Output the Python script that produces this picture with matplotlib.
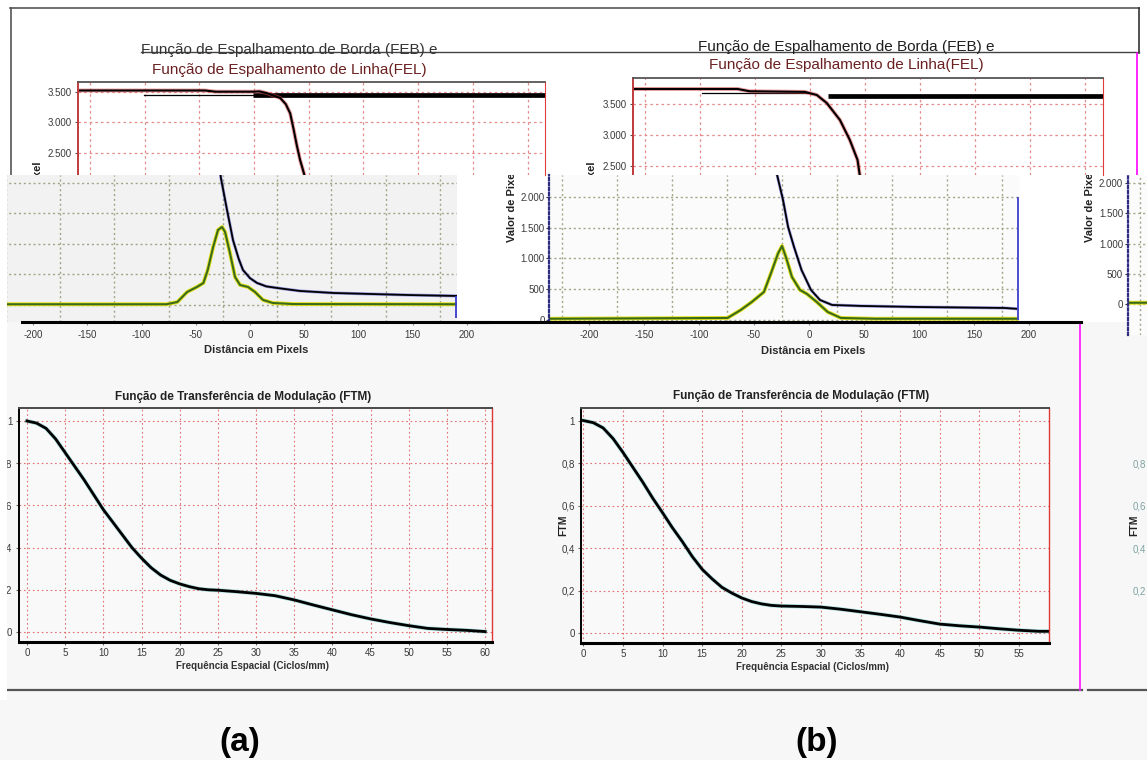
import matplotlib
matplotlib.use("Agg")
import matplotlib.pyplot as plt
from matplotlib.lines import Line2D
from matplotlib.patches import Rectangle

# ---------------- data ----------------
# Edge spread function (FEB), plateau section: distance (pixels) / pixel value
feb_top_a_x = [-236, -120, -110, -76, -70, -63, -57, -51, -46, -42, -39, -36, -33, -29, -27]
feb_top_a_y = [3525, 3525, 3505, 3505, 3510, 3480, 3440, 3400, 3300, 3150, 2900, 2630, 2390, 2140, 1900]
feb_trace_a_x = [-176, -76]
feb_trace_a_y = [3455, 3455]
feb_band_a_x = [-76, 191]
feb_band_a_y = [3455, 3455]

feb_top_b_x = [-236, -141, -130, -80, -69, -60, -48, -39, -32, -30, -28]
feb_top_b_y = [3742, 3742, 3705, 3695, 3645, 3516, 3242, 2919, 2597, 2355, 2100]
feb_trace_b_x = [-173, -75]
feb_trace_b_y = [3677, 3677]
feb_band_b_x = [-59, 191]
feb_band_b_y = [3630, 3630]

# Lower section: FEB tail and line spread function (FEL)
feb_a_x = [-29, -26.8, -21.2, -15.7, -10.5, -6.5, 0, 6.5, 15, 24.9, 46, 76.6, 145, 191]
feb_a_y = [2400, 2080, 1557, 1066, 760, 574, 440, 361, 305, 279, 230, 197, 164, 148]
fel_a_x = [-236, -77, -67, -58, -49, -43, -39, -34, -29.5, -25.8, -23, -18.5, -13.8, -9.2,
           -1.8, 4.6, 12, 21, 40, 191]
fel_a_y = [12, 12, 49, 213, 295, 360, 574, 951, 1230, 1279, 1197, 852, 459, 328,
           295, 213, 82, 33, 15, 12]

feb_b_x = [-31, -29, -23.6, -19, -13.6, -6.8, 1.8, 10, 21, 48, 99, 178, 191]
feb_b_y = [2600, 2358, 1951, 1512, 1187, 813, 488, 325, 244, 228, 211, 195, 179]
fel_b_x = [-236, -74, -62, -52, -41, -34.5, -28, -24.5, -21, -15.5, -8.2, -1.8, 7, 17, 29, 60, 191]
fel_b_y = [20, 33, 163, 293, 455, 764, 1089, 1203, 1024, 699, 488, 423, 293, 130, 33, 20, 20]

# Modulation transfer function (FTM)
freq_a = [0, 1.25, 2.5, 3.75, 5, 6.25, 7.5, 8.75, 10, 11.25, 12.5, 13.75, 15, 16.25, 17.5,
          18.75, 20, 21.25, 22.5, 23.75, 25, 27.5, 30, 32.5, 35, 37.5, 40, 42.5, 45, 47.5,
          50, 52.5, 55, 57.5, 60]
ftm_a = [1.0, 0.99, 0.965, 0.915, 0.85, 0.785, 0.72, 0.65, 0.58, 0.52, 0.46, 0.40, 0.35,
         0.305, 0.27, 0.245, 0.228, 0.215, 0.205, 0.2, 0.198, 0.191, 0.183, 0.172, 0.152,
         0.128, 0.105, 0.082, 0.062, 0.045, 0.03, 0.017, 0.012, 0.008, 0.002]
freq_b = [0, 1.25, 2.5, 3.75, 5, 6.25, 7.5, 8.75, 10, 11.25, 12.5, 13.75, 15, 16.25, 17.5,
          18.75, 20, 21.25, 22.5, 23.75, 25, 27.5, 30, 32.5, 35, 37.5, 40, 42.5, 45, 47.5,
          50, 52.5, 55, 57.5, 59]
ftm_b = [1.0, 0.99, 0.965, 0.915, 0.85, 0.78, 0.71, 0.635, 0.566, 0.495, 0.43, 0.36, 0.30,
         0.255, 0.215, 0.188, 0.165, 0.148, 0.137, 0.13, 0.127, 0.125, 0.122, 0.112, 0.10,
         0.088, 0.075, 0.058, 0.042, 0.034, 0.028, 0.02, 0.013, 0.008, 0.008]

dist_ticks = [-200, -150, -100, -50, 0, 50, 100, 150, 200]
dist_grid = [-225, -175, -125, -75, -25, 25, 75, 125, 175]
feb_ticks = [2500, 3000, 3500]
feb_tick_labels = ['2.500', '3.000', '3.500']
fel_ticks = [0, 500, 1000, 1500, 2000]
fel_tick_labels = ['0', '500', '1.000', '1.500', '2.000']
ftm_ticks = [0, 0.2, 0.4, 0.6, 0.8, 1.0]
ftm_tick_labels = ['0', '0,2', '0,4', '0,6', '0,8', '1']
freq_ticks_a = list(range(0, 61, 5))
freq_ticks_b = list(range(0, 56, 5))

# ---------------- layout helpers (pixel coordinates, origin top-left) ----------------
W, H = 1147, 760
plt.rcParams['font.family'] = ['Liberation Sans', 'DejaVu Sans']

fig = plt.figure(figsize=(W / 100, H / 100), dpi=100)
fig.patch.set_facecolor('#f7f7f7')


def box(x0, y0, x1, y1):
    return [x0 / W, 1 - y1 / H, (x1 - x0) / W, (y1 - y0) / H]


def seg(xs, ys, **kw):
    fig.add_artist(Line2D([x / W for x in xs], [1 - y / H for y in ys],
                          transform=fig.transFigure, **kw))


def label(x, y, s, **kw):
    return fig.text(x / W, 1 - y / H, s, **kw)


def fill(x0, y0, x1, y1, color, z=0):
    fig.add_artist(Rectangle((x0 / W, 1 - y1 / H), (x1 - x0) / W, (y1 - y0) / H,
                             transform=fig.transFigure, facecolor=color,
                             edgecolor='none', zorder=z))


fill(0, 0, W, 175, 'white')
fill(457, 175, W, 322, 'white')

DIST_LIM = (-236, 191)
TICK_COL = '#3a3a3a'


def upper_panel(rect, ylim, ex, ey, tx, ty, bx, by):
    ax = fig.add_axes(box(*rect), zorder=5, facecolor='white')
    ax.set_xlim(*DIST_LIM)
    ax.set_ylim(*ylim)
    ax.set_xticks(dist_grid)
    ax.tick_params(axis='x', length=0, labelbottom=False)
    ax.set_yticks(feb_ticks)
    ax.set_yticklabels(feb_tick_labels)
    ax.tick_params(axis='y', labelsize=7, labelcolor=TICK_COL, length=2.5,
                   color='#555', pad=2)
    ax.grid(True, color='#e58a8a', ls=(0, (2, 2.5)), lw=0.9)
    ax.spines['bottom'].set_visible(False)
    ax.spines['top'].set_color('#555')
    ax.spines['top'].set_linewidth(1.3)
    ax.spines['right'].set_color('#e03c3c')
    ax.spines['left'].set_color('#c03a3a')
    ax.spines['left'].set_linewidth(1.4)
    ax.plot(tx, ty, color='black', lw=0.9)
    ax.plot(bx, by, color='black', lw=3.4, solid_capstyle='butt')
    ax.plot(ex, ey, color='#e04a4a', lw=2.8, alpha=0.55)
    ax.plot(ex, ey, color='black', lw=1.5)
    return ax


def strip_panel(rect, ylim, ex, ey, lx, ly, face, show_y):
    ax = fig.add_axes(box(*rect), zorder=5, facecolor=face)
    ax.set_xlim(*DIST_LIM)
    ax.set_ylim(*ylim)
    ax.set_xticks(dist_grid)
    ax.tick_params(axis='x', length=0, labelbottom=False)
    ax.set_yticks(fel_ticks)
    ax.grid(True, color='#a4a487', ls=(0, (1.5, 2)), lw=1.0)
    for s in ax.spines.values():
        s.set_visible(False)
    if show_y:
        ax.set_yticklabels(fel_tick_labels)
        ax.tick_params(axis='y', labelsize=7, labelcolor=TICK_COL, length=2,
                       color='#333', pad=1.5)
        ax.spines['left'].set_visible(True)
        ax.spines['left'].set_color('#2c2c80')
        ax.spines['left'].set_linewidth(1.6)
        ax.spines['left'].set_linestyle((0, (1, 1.2)))
    else:
        ax.tick_params(axis='y', length=0, labelleft=False)
    ax.plot(lx, ly, color='#e3e31c', lw=2.8)
    ax.plot(lx, ly, color='#3b6a1a', lw=1.5)
    if ex is not None:
        ax.plot(ex, ey, color='#4040d0', lw=2.2, alpha=0.5)
        ax.plot(ex, ey, color='black', lw=1.3)
    return ax


def dist_axis(rect, xlim):
    ax = fig.add_axes(box(*rect), zorder=6, facecolor='none')
    ax.set_xlim(*xlim)
    ax.set_yticks([])
    ax.set_xticks(dist_ticks)
    ax.set_xticklabels([str(v) for v in dist_ticks])
    ax.tick_params(axis='x', labelsize=7, labelcolor=TICK_COL, length=2,
                   color='#888', pad=4)
    for k in ('top', 'left', 'right'):
        ax.spines[k].set_visible(False)
    ax.spines['bottom'].set_color('black')
    ax.spines['bottom'].set_linewidth(2.2)
    return ax


def ftm_panel(rect, xlim, ylim, fx, fy, xticks):
    ax = fig.add_axes(box(*rect), zorder=5, facecolor='#f9f9f9')
    ax.set_xlim(*xlim)
    ax.set_ylim(*ylim)
    ax.set_xticks(xticks)
    ax.set_xticklabels([str(v) for v in xticks])
    ax.set_yticks(ftm_ticks)
    ax.set_yticklabels(ftm_tick_labels)
    ax.tick_params(labelsize=7, labelcolor=TICK_COL, length=2.5, color='#666', pad=2)
    ax.grid(True, color='#e27070', ls=(0, (1.5, 2.5)), lw=0.8)
    ax.spines['top'].set_color('#4a4a4a')
    ax.spines['top'].set_linewidth(1.4)
    ax.spines['bottom'].set_color('black')
    ax.spines['bottom'].set_linewidth(2.2)
    ax.spines['left'].set_color('black')
    ax.spines['left'].set_linewidth(1.4)
    ax.spines['right'].set_color('#e03838')
    ax.spines['right'].set_linewidth(1.0)
    ax.plot(fx, fy, color='#30b8c0', lw=3.0, alpha=0.35, solid_joinstyle='round')
    ax.plot(fx, fy, color='black', lw=2.0, solid_joinstyle='round')
    return ax


# ---------------- FEB / FEL panels ----------------
upper_panel((78, 82, 545, 175), (2139, 3664), feb_top_a_x, feb_top_a_y,
            feb_trace_a_x, feb_trace_a_y, feb_band_a_x, feb_band_a_y)
upper_panel((633, 78, 1103, 175), (2355, 3919), feb_top_b_x, feb_top_b_y,
            feb_trace_b_x, feb_trace_b_y, feb_band_b_x, feb_band_b_y)

sa = strip_panel((250 - 236 * 1.084, 175, 250 + 191 * 1.084, 322), (-279, 2131),
                 feb_a_x, feb_a_y, fel_a_x, fel_a_y, '#f2f2f2', False)
sa.vlines(feb_a_x[-1] - 1, -213, feb_a_y[-1], color='#3a3ad0', lw=1.3)

sb = strip_panel((549.4, 175, 1019.1, 322), (-33, 2358),
                 feb_b_x, feb_b_y, fel_b_x, fel_b_y, '#fbfbfb', True)
sb.vlines(feb_b_x[-1] - 1, fel_ticks[0], fel_ticks[-1], color='#4b4bd0', lw=1.4)

# partially visible third panel on the right edge
sc = strip_panel((1128, 175, 1600, 335), (-512, 2132), None, None,
                 fel_b_x, fel_b_y, '#fbfbfb', True)

dist_axis((22, 320, 489, 322), ((22 - 250) / 1.084, (489 - 250) / 1.084))
dist_axis((460, 320, 1081, 322), ((460 - 809) / 1.1, (1081 - 809) / 1.1))

# axis titles of the FEB/FEL panels
ylab = dict(rotation=90, ha='center', fontsize=8, fontweight='bold', color='#222', zorder=2)
label(38, 161, 'Valor de Pixel', va='top', **ylab)
label(592, 161, 'Valor de Pixel', va='top', **ylab)
label(512, 242, 'Valor de Pixel', va='bottom', **ylab)
label(1090, 242, 'Valor de Pixel', va='bottom', **ylab)

xlab = dict(ha='center', va='center', fontsize=8, fontweight='bold', color='#2a2a2a', zorder=7)
label(256, 350, 'Distância em Pixels', **xlab)
label(813, 351, 'Distância em Pixels', **xlab)

# frame lines of the upper area
seg([10, 1139], [8, 8], color='#555', lw=1.2)
seg([11, 11], [8, 175], color='#555', lw=1.2)
seg([1139, 1139], [8, 53], color='#333', lw=1.2)
seg([141, 1139], [52, 52], color='#444', lw=1.0)
seg([1137, 1137], [53, 175], color='#ff00ff', lw=1.2)

ttl = dict(ha='center', va='center', fontsize=11, zorder=7)
label(289, 50, 'Função de Espalhamento de Borda (FEB) e', color='#333', **ttl)
label(289, 70, 'Função de Espalhamento de Linha(FEL)', color='#6a2020', **ttl)
label(846, 47, 'Função de Espalhamento de Borda (FEB) e', color='#1e1e1e', **ttl)
label(846, 65, 'Função de Espalhamento de Linha(FEL)', color='#6a2020', **ttl)

# ---------------- FTM panels ----------------
ftm_panel((18.5, 408, 492, 642), (-1.11, 60.9), (-0.0474, 1.0616), freq_a, ftm_a, freq_ticks_a)
ftm_panel((581, 408, 1049, 643), (-0.3, 58.8), (-0.047, 1.059), freq_b, ftm_b, freq_ticks_b)

# tick labels of a third FTM panel at the right edge
fc = fig.add_axes(box(1150, 408, 1700, 643), zorder=5, facecolor='none')
fc.set_ylim(-0.047, 1.059)
fc.set_yticks(ftm_ticks[1:5])
fc.set_yticklabels(ftm_tick_labels[1:5])
fc.set_xticks([])
fc.tick_params(axis='y', labelsize=7, labelcolor='#7fa3a3', length=0, pad=3)
for s in fc.spines.values():
    s.set_visible(False)

ftl = dict(ha='center', va='center', fontsize=8.5, fontweight='bold', color='#222', zorder=7)
label(243, 397, 'Função de Transferência de Modulação (FTM)', **ftl)
label(801, 396, 'Função de Transferência de Modulação (FTM)', **ftl)
fxl = dict(ha='center', va='center', fontsize=7, fontweight='bold', color='#333', zorder=7)
label(252, 666, 'Frequência Espacial (Ciclos/mm)', **fxl)
label(813, 667, 'Frequência Espacial (Ciclos/mm)', **fxl)
label(563, 525, 'FTM', rotation=90, ha='center', va='center', fontsize=7.5,
      fontweight='bold', color='#222', zorder=7)
label(1134, 525, 'FTM', rotation=90, ha='center', va='center', fontsize=7.5,
      fontweight='bold', color='#222', zorder=7)

seg([8, 1082], [690, 690], color='#555', lw=1.6)
seg([1088, 1147], [690, 690], color='#555', lw=1.6)
seg([1080, 1080], [322, 690], color='#ff22ff', lw=1.3)
fill(0, 175, 6.5, 700, 'white', z=8)

# ---------------- panel letters ----------------
big = dict(ha='center', va='center', fontsize=24, fontweight='bold', color='black',
           family=['Liberation Sans Narrow', 'Liberation Sans', 'DejaVu Sans'])
label(240, 742, '(a)', **big)
label(817, 742, '(b)', **big)

fig.savefig('out.png', dpi=100, facecolor=fig.get_facecolor())
